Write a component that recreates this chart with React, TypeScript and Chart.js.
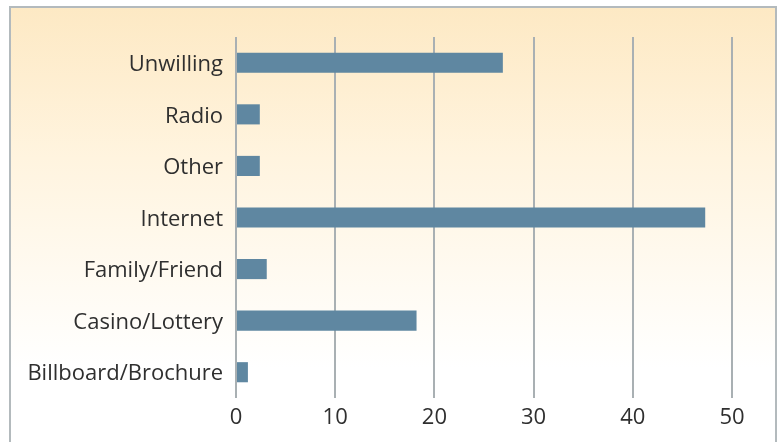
import React, { useEffect, useRef } from "react";
import { Chart, registerables } from "chart.js";

Chart.register(...registerables);

const categories = ["Unwilling", "Radio", "Other", "Internet", "Family/Friend", "Casino/Lottery", "Billboard/Brochure"];
const values = [26.9, 2.4, 2.4, 47.3, 3.1, 18.2, 1.2];
const xTicks = [0, 10, 20, 30, 40, 50];

export default function App() {
  const ref = useRef<HTMLCanvasElement | null>(null);

  useEffect(() => {
    document.body.style.margin = "0";
    const ctx = ref.current!.getContext("2d")!;
    const chart = new Chart(ctx, {
      type: "bar",
      data: {
        labels: categories,
        datasets: [
          {
            data: values,
            backgroundColor: "#5f87a1",
            borderWidth: 0,
            barPercentage: 0.78,
            categoryPercentage: 0.5,
          },
        ],
      },
      options: {
        indexAxis: "y",
        animation: false,
        responsive: false,
        maintainAspectRatio: false,
        layout: { padding: { top: 37, right: 46, left: 0, bottom: 0 } },
        plugins: { legend: { display: false }, tooltip: { enabled: false } },
        scales: {
          x: {
            min: 0,
            max: 50,
            z: 1,
            afterBuildTicks: (s: any) => {
              s.ticks = xTicks.map((v) => ({ value: v }));
            },
            afterFit: (s: any) => {
              s.height = 44;
            },
            grid: { color: "#a9b0b3", lineWidth: 2, drawTicks: false },
            border: { display: false },
            ticks: {
              color: "#2f2f2f",
              font: { family: "Open Sans", size: 22 },
              padding: 7,
            },
          },
          y: {
            afterFit: (s: any) => {
              s.width = 236;
            },
            grid: { display: false, drawTicks: false },
            border: { display: false },
            ticks: {
              color: "#2f2f2f",
              font: { family: "Open Sans", size: 22 },
              padding: 13,
              labelOffset: 2,
            },
          },
        },
      },
    });
    return () => chart.destroy();
  }, []);

  return (
    <div style={{ position: "relative", width: 778, height: 442, overflow: "hidden", background: "#fff" }}>
      <div
        style={{
          position: "absolute",
          left: 9,
          top: 6,
          width: 764,
          height: 450,
          borderLeft: "2px solid #b3babd",
          borderTop: "2px solid #b3babd",
          borderRight: "2px solid #b3babd",
          background: "linear-gradient(180deg, #fde9c4 0px, #fff4df 150px, #fffbf3 280px, #ffffff 360px)",
        }}
      />
      <canvas ref={ref} width={778} height={442} style={{ position: "absolute", left: 0, top: 0 }} />
    </div>
  );
}
